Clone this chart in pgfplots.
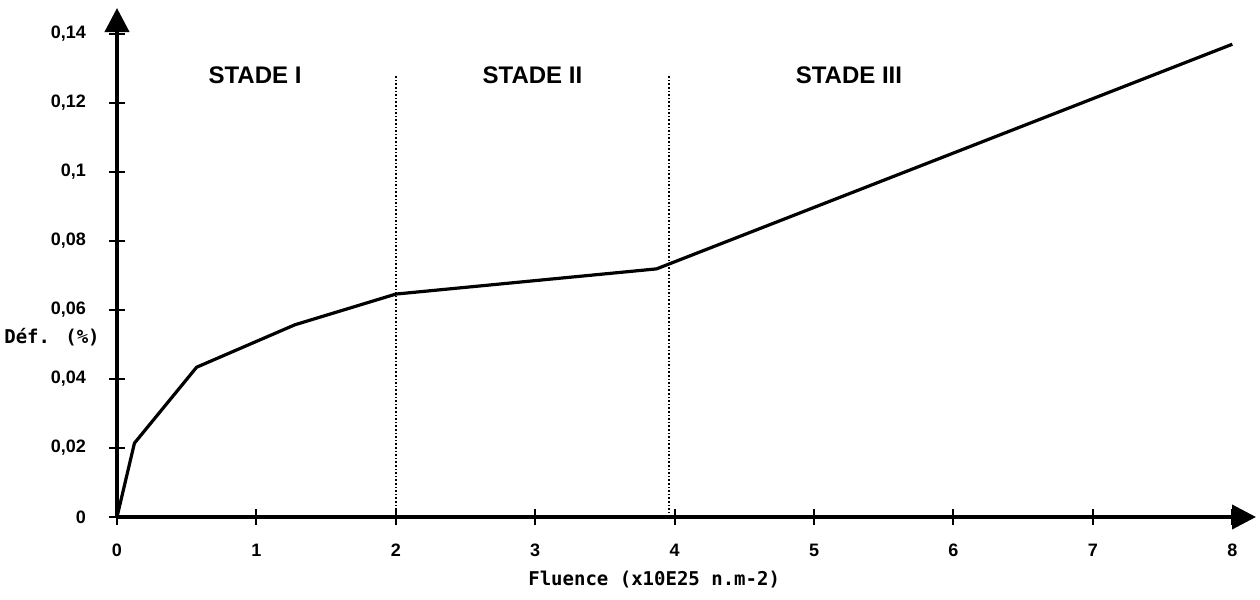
\documentclass[border=0pt]{standalone}
\usepackage{fontspec}
\setmainfont{Liberation Sans}
\newfontfamily\monob{DejaVu Sans Mono}
\usepackage{pgfplots}
\pgfplotsset{compat=1.18}
\usetikzlibrary{arrows.meta}

\begin{document}
\begin{tikzpicture}
\begin{axis}[
  at={(0,0)}, anchor=south west,
  scale only axis, width=569.5pt, height=254.5pt,
  xmin=0, xmax=8.17, ymin=0, ymax=0.1475,
  axis lines=left,
  axis line style={line width=2pt, -{Triangle[length=12pt,width=12pt]}},
  tick align=center, major tick length=8pt,
  tick style={line width=1pt, black},
  xtick={0,1,...,8},
  ytick={0,0.02,0.04,0.06,0.08,0.1,0.12,0.14},
  yticklabels={0,{0,02},{0,04},{0,06},{0,08},{0,1},{0,12},{0,14}},
  xticklabels={0,1,2,3,4,5,6,7,8},
  ticklabel style={font=\fontsize{9}{10}\selectfont\bfseries},
  yticklabel style={xshift=-8pt},
  xticklabel style={yshift=-6pt},
  clip=false,
]
% curve
\addplot[black, line width=1.6pt] coordinates {
  (0,0) (0.125,0.0214) (0.571,0.0434) (1.276,0.0557) (2,0.0646) (3.87,0.0719) (8,0.137)
};
% stage boundaries
\addplot[black, line width=0.8pt, densely dotted] coordinates {(2,0) (2,0.128)};
\addplot[black, line width=0.8pt, densely dotted] coordinates {(3.96,0) (3.96,0.128)};

\node[font=\fontsize{12}{14}\selectfont\bfseries] at (axis cs:0.99,0.128) {STADE I};
\node[font=\fontsize{12}{14}\selectfont\bfseries] at (axis cs:2.98,0.128) {STADE II};
\node[font=\fontsize{12}{14}\selectfont\bfseries] at (axis cs:5.25,0.128) {STADE III};

\node[font=\monob\fontsize{9.5}{11}\selectfont\bfseries] at (axis cs:3.853,0) [yshift=-31.5pt] {Fluence (x10E25 n.m-2)};
\node[font=\monob\fontsize{9.5}{11}\selectfont\bfseries] at (axis cs:0,0.0522) [xshift=-32.5pt] {Déf. (\%)};
\end{axis}
\pgfresetboundingbox
\path[use as bounding box] (-58.5pt,-41.5pt) rectangle (571.5pt,258.5pt);
\end{tikzpicture}
\end{document}
